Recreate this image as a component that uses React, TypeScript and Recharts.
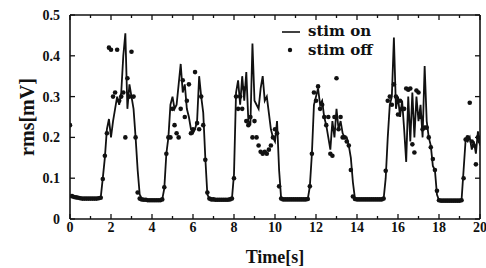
import { ComposedChart, Legend, Line, XAxis, YAxis } from 'recharts'

// EMG rms, sampled every 0.1 s from 0 to 20 s (one row per second)
const STIM_ON = [
  0.058, 0.055, 0.054, 0.053, 0.052, 0.052, 0.051, 0.051, 0.051, 0.051,
  0.051, 0.051, 0.051, 0.051, 0.051, 0.053, 0.1, 0.15, 0.22, 0.245,
  0.2, 0.24, 0.27, 0.3, 0.28, 0.31, 0.4, 0.455, 0.27, 0.33,
  0.3, 0.27, 0.2, 0.12, 0.06, 0.05, 0.048, 0.047, 0.047, 0.047,
  0.046, 0.046, 0.046, 0.046, 0.046, 0.048, 0.075, 0.16, 0.2, 0.28,
  0.3, 0.27, 0.28, 0.33, 0.38, 0.31, 0.33, 0.27, 0.25, 0.22,
  0.21, 0.22, 0.24, 0.35, 0.3, 0.26, 0.15, 0.06, 0.05, 0.048,
  0.048, 0.047, 0.047, 0.047, 0.047, 0.047, 0.047, 0.048, 0.048, 0.05,
  0.11, 0.31, 0.34, 0.28, 0.35, 0.29, 0.36, 0.24, 0.23, 0.43,
  0.29, 0.28, 0.27, 0.32, 0.35, 0.29, 0.3, 0.26, 0.22, 0.2,
  0.19, 0.24, 0.12, 0.05, 0.048, 0.048, 0.048, 0.048, 0.048, 0.048,
  0.048, 0.048, 0.048, 0.048, 0.048, 0.048, 0.049, 0.08, 0.16, 0.28,
  0.3, 0.32, 0.28, 0.29, 0.25, 0.23, 0.2, 0.17, 0.24, 0.2,
  0.27, 0.22, 0.24, 0.21, 0.2, 0.2, 0.18, 0.15, 0.09, 0.05,
  0.048, 0.048, 0.048, 0.048, 0.048, 0.048, 0.048, 0.048, 0.048, 0.048,
  0.048, 0.048, 0.048, 0.05, 0.1, 0.2, 0.28, 0.3, 0.445, 0.27,
  0.3, 0.25, 0.29, 0.22, 0.14, 0.3, 0.19, 0.31, 0.2, 0.3,
  0.24, 0.28, 0.2, 0.375, 0.24, 0.2, 0.18, 0.13, 0.12, 0.06,
  0.046, 0.045, 0.045, 0.045, 0.045, 0.045, 0.045, 0.045, 0.045, 0.045,
  0.045, 0.046, 0.12, 0.195, 0.19, 0.2, 0.17, 0.19, 0.16, 0.215,
  0.18,
]

const STIM_OFF = [
  0.23, 0.056, 0.054, 0.053, 0.052, 0.051, 0.05, 0.05, 0.05, 0.05,
  0.05, 0.05, 0.05, 0.05, 0.051, 0.052, 0.098, 0.155, 0.21, 0.42,
  0.415, 0.3, 0.31, 0.415, 0.29, 0.3, 0.31, 0.2, 0.345, 0.3,
  0.41, 0.3, 0.2, 0.065, 0.05, 0.048, 0.047, 0.047, 0.046, 0.046,
  0.046, 0.046, 0.046, 0.046, 0.046, 0.048, 0.078, 0.16, 0.2, 0.2,
  0.27, 0.23, 0.21, 0.2, 0.27, 0.34, 0.25, 0.29, 0.33, 0.21,
  0.22, 0.36, 0.235, 0.22, 0.3, 0.23, 0.145, 0.065, 0.05, 0.048,
  0.048, 0.047, 0.047, 0.047, 0.047, 0.047, 0.047, 0.047, 0.048, 0.05,
  0.1, 0.3, 0.27, 0.3, 0.27, 0.32, 0.24, 0.23, 0.25, 0.2,
  0.24, 0.2, 0.18, 0.165, 0.16, 0.165, 0.16, 0.17, 0.18, 0.2,
  0.22, 0.21, 0.08, 0.05, 0.048, 0.048, 0.048, 0.048, 0.048, 0.048,
  0.048, 0.048, 0.048, 0.048, 0.048, 0.048, 0.049, 0.08, 0.16, 0.31,
  0.29, 0.325, 0.27, 0.28, 0.25, 0.23, 0.25, 0.16, 0.155, 0.25,
  0.345, 0.22, 0.25, 0.2, 0.2, 0.19, 0.18, 0.12, 0.055, 0.049,
  0.048, 0.048, 0.048, 0.048, 0.048, 0.048, 0.048, 0.048, 0.048, 0.048,
  0.048, 0.048, 0.048, 0.05, 0.118, 0.29, 0.3, 0.28, 0.33, 0.3,
  0.256, 0.29, 0.27, 0.27, 0.32, 0.317, 0.32, 0.183, 0.163, 0.315,
  0.31, 0.25, 0.22, 0.224, 0.224, 0.2, 0.176, 0.147, 0.12, 0.069,
  0.046, 0.045, 0.045, 0.045, 0.045, 0.045, 0.045, 0.045, 0.045, 0.045,
  0.045, 0.046, 0.1, 0.195, 0.2, 0.285, 0.19, 0.18, 0.134, 0.2,
  0.19,
]

const SAMPLE_STEP = 0.1 // seconds
const X_MAJOR = [0, 2, 4, 6, 8, 10, 12, 14, 16, 18, 20]
const X_MINOR = [1, 3, 5, 7, 9, 11, 13, 15, 17, 19]
const Y_TICKS = [0, 0.1, 0.2, 0.3, 0.4, 0.5]
const Y_LABELS = ['0', '0.1', '0.2', '0.3', '0.4', '0.5']

const X_TICKS = [...X_MAJOR, ...X_MINOR].sort((a, b) => a - b)

const rows = STIM_ON.map((on, i) => ({
  t: Math.round(i * SAMPLE_STEP * 10) / 10,
  on,
  off: STIM_OFF[i],
}))

const INK = '#111'
const SERIF = '"Liberation Serif", "Times New Roman", serif'
const LEGEND_SERIF = '"DejaVu Serif", serif'
const MAJOR_LEN = 5
const MINOR_LEN = 3

// inward ticks: each axis has tickSize 0 / tickMargin 0, so x,y is the point on the frame
function BottomTick({ x, y, payload }: any) {
  const major = X_MAJOR.includes(payload.value)
  return (
    <g>
      <line x1={x} x2={x} y1={y} y2={y - (major ? MAJOR_LEN : MINOR_LEN)} stroke={INK} strokeWidth={1.3} />
      {major && (
        <text x={x} y={y + 13} textAnchor="middle" fontFamily={SERIF} fontWeight={700} fontSize={14} fill={INK}>
          {payload.value}
        </text>
      )}
    </g>
  )
}

function TopTick({ x, y, payload }: any) {
  const major = X_MAJOR.includes(payload.value)
  return <line x1={x} x2={x} y1={y} y2={y + (major ? MAJOR_LEN : MINOR_LEN)} stroke={INK} strokeWidth={1.3} />
}

function LeftTick({ x, y, payload }: any) {
  const idx = Y_TICKS.indexOf(payload.value)
  return (
    <g>
      <line x1={x} x2={x + MAJOR_LEN} y1={y} y2={y} stroke={INK} strokeWidth={1.3} />
      <text x={x - 10} y={y + 5} textAnchor="end" fontFamily={SERIF} fontWeight={700} fontSize={14} fill={INK}>
        {Y_LABELS[idx]}
      </text>
    </g>
  )
}

function RightTick({ x, y }: any) {
  return <line x1={x} x2={x - MAJOR_LEN} y1={y} y2={y} stroke={INK} strokeWidth={1.3} />
}

function LegendBox() {
  const row = { display: 'flex', alignItems: 'center', height: 19 }
  return (
    <div style={{ fontFamily: LEGEND_SERIF, fontWeight: 700, fontSize: 15, color: INK, lineHeight: '19px' }}>
      <div style={row}>
        <svg width={30} height={19}>
          <line x1={4} x2={22} y1={10} y2={10} stroke={INK} strokeWidth={1.6} />
        </svg>
        <span>stim on</span>
      </div>
      <div style={row}>
        <svg width={30} height={19}>
          <circle cx={12} cy={9} r={2.2} fill={INK} />
        </svg>
        <span>stim off</span>
      </div>
    </div>
  )
}

const frame = { stroke: INK, strokeWidth: 1.6 }

export default function App() {
  return (
    <div style={{ position: 'absolute', left: 0, top: 0, background: '#fff' }}>
      <ComposedChart width={486} height={268} data={rows} margin={{ top: 14, right: 5, bottom: 0, left: 0 }}>
        <XAxis
          xAxisId="b"
          dataKey="t"
          type="number"
          domain={[0, 20]}
          ticks={X_TICKS}
          interval={0}
          height={49}
          tickSize={0}
          tickMargin={0}
          tickLine={false}
          tick={BottomTick}
          axisLine={frame}
          allowDataOverflow
          label={{
            value: 'Time[s]',
            position: 'insideBottom',
            offset: 5,
            style: { fontFamily: SERIF, fontWeight: 700, fontSize: 18, fill: INK },
          }}
        />
        <XAxis
          xAxisId="t"
          orientation="top"
          dataKey="t"
          type="number"
          domain={[0, 20]}
          ticks={X_TICKS}
          interval={0}
          height={1}
          tickSize={0}
          tickMargin={0}
          tickLine={false}
          tick={TopTick}
          axisLine={frame}
          allowDataOverflow
        />
        <YAxis
          yAxisId="l"
          type="number"
          domain={[0, 0.5]}
          ticks={Y_TICKS}
          interval={0}
          width={70}
          tickSize={0}
          tickMargin={0}
          tickLine={false}
          tick={LeftTick}
          axisLine={frame}
          allowDataOverflow
          label={{
            value: 'rms[mV]',
            angle: -90,
            position: 'insideLeft',
            offset: 27,
            style: { textAnchor: 'middle', fontFamily: SERIF, fontWeight: 700, fontSize: 20, fill: INK },
          }}
        />
        <YAxis
          yAxisId="r"
          orientation="right"
          type="number"
          domain={[0, 0.5]}
          ticks={Y_TICKS}
          interval={0}
          width={1}
          tickSize={0}
          tickMargin={0}
          tickLine={false}
          tick={RightTick}
          axisLine={frame}
          allowDataOverflow
        />
        <Legend
          layout="vertical"
          align="center"
          verticalAlign="middle"
          content={LegendBox}
          wrapperStyle={{ left: 278, top: 22, width: 110 }}
        />
        <Line
          xAxisId="b"
          yAxisId="l"
          dataKey="off"
          stroke="none"
          dot={{ r: 2.3, fill: INK, stroke: 'none' }}
          activeDot={false}
          isAnimationActive={false}
        />
        <Line
          xAxisId="b"
          yAxisId="l"
          dataKey="on"
          stroke={INK}
          strokeWidth={1.8}
          dot={false}
          activeDot={false}
          isAnimationActive={false}
        />
      </ComposedChart>
    </div>
  )
}
